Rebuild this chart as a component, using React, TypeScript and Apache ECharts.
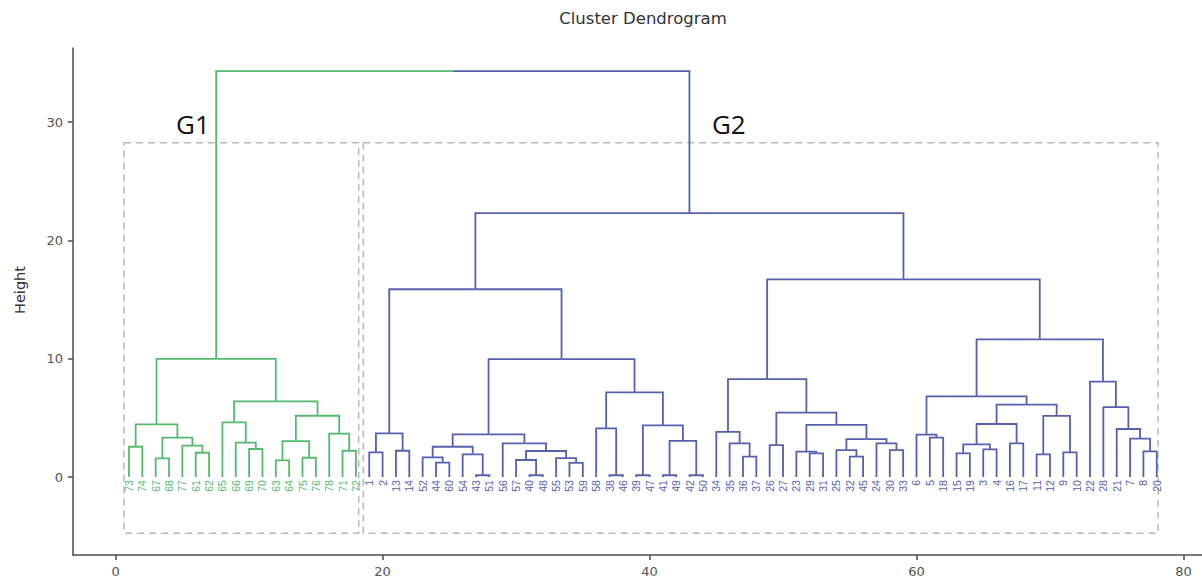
import React, { useEffect, useRef } from "react";
import * as echarts from "echarts";

type Node = number | [Node, Node, number];

const chartTitle = "Cluster Dendrogram";
const yAxisName = "Height";
const xTicks = [0, 20, 40, 60, 80];
const yTicks = [0, 10, 20, 30];
const groupNames = ["G1", "G2"];
const groupColors = ["#55ba6e", "#5461ad"];

// Dendrogram as nested merges: [left, right, mergeHeight]; numbers are leaf labels
const g1Tree: Node = [
  [[73, 74, 2.56], [[67, 68, 1.58], [77, [61, 62, 2.05], 2.65], 3.33], 4.45],
  [
    [65, [66, [69, 70, 2.37], 2.9], 4.62],
    [[[63, 64, 1.41], [75, 76, 1.63], 3.04], [78, [71, 72, 2.22], 3.66], 5.18],
    6.4,
  ],
  9.98,
];

const g2LeftTree: Node = [
  [[1, 2, 2.08], [13, 14, 2.22], 3.69],
  [
    [
      [[52, [44, 60, 1.21], 1.66], [54, [43, 51, 0.15], 1.92], 2.56],
      [56, [[57, [40, 48, 0.15], 1.44], [55, [53, 59, 1.2], 1.6], 2.2], 2.85],
      3.61,
    ],
    [[58, [38, 46, 0.15], 4.12], [[39, 47, 0.15], [[41, 49, 0.15], [42, 50, 0.15], 3.06], 4.36], 7.16],
    9.97,
  ],
  15.87,
];

const g2RightTree: Node = [
  [
    [34, [35, [36, 37, 1.72], 2.85], 3.82],
    [[26, 27, 2.7], [[23, [29, 31, 2.0], 2.14], [[25, [32, 45, 1.72], 2.28], [24, [30, 33, 2.28], 2.85], 3.21], 4.4], 5.44],
    8.28,
  ],
  [
    [
      [6, [5, 18, 3.33], 3.58],
      [[[[15, 19, 2.0], [3, 4, 2.34], 2.76], [16, 17, 2.85], 4.48], [[11, 12, 1.92], [9, 10, 2.09], 5.16], 6.12],
      6.82,
    ],
    [22, [28, [21, [7, [8, 20, 2.17], 3.24], 4.06], 5.9], 8.06],
    11.64,
  ],
  16.7,
];

const g2Height = 22.3;
const rootHeight = 34.3;

// dashed group boxes [x1, y1, x2, y2] in data units
const groupBoxes = [
  [0.62, -4.76, 18.21, 28.26],
  [18.55, -4.76, 78.1, 28.26],
];
// group label anchors [x (left), y (middle)] in data units
const groupLabelPos = [
  [4.52, 29.83],
  [44.67, 29.83],
];

const xMin = -3.195;
const xMax = 81.39;
const yMin = -6.59;
const yMax = 36.26;

function build() {
  const segments: number[][] = [];
  const leafOrder: number[] = [];
  const leafColor: number[] = [];
  const walk = (node: Node, c: number): { x: number; h: number } => {
    if (typeof node === "number") {
      leafOrder.push(node);
      leafColor.push(c);
      return { x: leafOrder.length, h: 0 };
    }
    const [l, r, h] = node;
    const L = walk(l, c);
    const R = walk(r, c);
    const m = (L.x + R.x) / 2;
    segments.push([L.x, L.h, m, h, c]);
    segments.push([R.x, R.h, m, h, c]);
    return { x: m, h };
  };
  const A = walk(g1Tree, 0);
  const B = walk([g2LeftTree, g2RightTree, g2Height], 1);
  const m = (A.x + B.x) / 2;
  segments.push([A.x, A.h, m, rootHeight, 0]);
  segments.push([B.x, B.h, m, rootHeight, 1]);
  return { segments, leafOrder, leafColor };
}

export default function App() {
  const ref = useRef<HTMLDivElement>(null);
  useEffect(() => {
    if (!ref.current) return;
    const chart = echarts.init(ref.current, undefined, { renderer: "svg" });
    const { segments, leafOrder, leafColor } = build();
    const axisColor = "#4d4d4d";
    const option: any = {
      animation: false,
      backgroundColor: "#ffffff",
      grid: { left: 73, right: 0, top: 48, bottom: 25, containLabel: false },
      graphic: [
        {
          type: "text",
          x: 643,
          y: 18,
          style: {
            text: chartTitle,
            fill: "#333333",
            fontSize: 16.5,
            fontFamily: "DejaVu Sans",
            align: "center",
            verticalAlign: "middle",
          },
        },
        {
          type: "text",
          x: 20,
          y: 290,
          rotation: Math.PI / 2,
          style: {
            text: yAxisName,
            fill: "#333333",
            fontSize: 14.5,
            fontFamily: "DejaVu Sans",
            align: "center",
            verticalAlign: "middle",
          },
        },
      ],
      xAxis: {
        type: "value",
        min: xMin,
        max: xMax,
        splitLine: { show: false },
        axisLine: { show: true, onZero: false, lineStyle: { color: axisColor, width: 1.5 } },
        axisTick: { show: true, customValues: xTicks, length: 5, lineStyle: { color: axisColor, width: 1.5 } },
        axisLabel: { customValues: xTicks, color: "#555555", fontSize: 13, margin: 10, fontFamily: "DejaVu Sans" },
      },
      yAxis: {
        type: "value",
        min: yMin,
        max: yMax,
        splitLine: { show: false },
        axisLine: { show: true, onZero: false, lineStyle: { color: axisColor, width: 1.5 } },
        axisTick: { show: true, customValues: yTicks, length: 5, lineStyle: { color: axisColor, width: 1.5 } },
        axisLabel: { customValues: yTicks, color: "#555555", fontSize: 13, margin: 10, fontFamily: "DejaVu Sans" },
      },
      series: [
        {
          type: "custom",
          name: "boxes",
          data: groupBoxes,
          silent: true,
          encode: { x: [0, 2], y: [1, 3] },
          renderItem: (params: any, api: any) => {
            const p1 = api.coord([api.value(0), api.value(3)]);
            const p2 = api.coord([api.value(2), api.value(1)]);
            return {
              type: "rect",
              shape: { x: p1[0], y: p1[1], width: p2[0] - p1[0], height: p2[1] - p1[1] },
              style: { stroke: "#b8b8b8", lineWidth: 1.5, lineDash: [7, 5], fill: "none" },
            };
          },
        },
        {
          type: "custom",
          name: "tree",
          data: segments,
          silent: true,
          encode: { x: [0, 2], y: [1, 3] },
          renderItem: (params: any, api: any) => {
            const x1 = api.value(0);
            const y1 = api.value(1);
            const x2 = api.value(2);
            const y2 = api.value(3);
            const c = api.value(4);
            return {
              type: "polyline",
              shape: { points: [api.coord([x1, y1]), api.coord([x1, y2]), api.coord([x2, y2])] },
              style: { stroke: groupColors[c], lineWidth: 1.8, fill: "none" },
            };
          },
        },
        {
          type: "custom",
          name: "leaves",
          data: leafOrder.map((lab, i) => [i + 1, 0, leafColor[i]]),
          silent: true,
          encode: { x: 0, y: 1 },
          renderItem: (params: any, api: any) => {
            const p = api.coord([api.value(0), 0]);
            return {
              type: "text",
              x: p[0],
              y: p[1] + 3,
              rotation: Math.PI / 2,
              style: {
                text: String(leafOrder[params.dataIndex]),
                fill: groupColors[api.value(2)],
                fontSize: 10.5,
                fontFamily: "Liberation Sans",
                align: "right",
                verticalAlign: "middle",
              },
            };
          },
        },
        {
          type: "custom",
          name: "groups",
          data: groupLabelPos,
          silent: true,
          encode: { x: 0, y: 1 },
          renderItem: (params: any, api: any) => {
            const p = api.coord([api.value(0), api.value(1)]);
            return {
              type: "text",
              x: p[0],
              y: p[1],
              style: {
                text: groupNames[params.dataIndex],
                fill: "#111111",
                fontSize: 26,
                fontFamily: "Open Sans",
                align: "left",
                verticalAlign: "middle",
              },
            };
          },
        },
      ],
    };
    chart.setOption(option);
    return () => chart.dispose();
  }, []);
  return (
    <div
      ref={ref}
      style={{ position: "absolute", left: 0, top: 0, width: 1202, height: 580, background: "#fff" }}
    />
  );
}
